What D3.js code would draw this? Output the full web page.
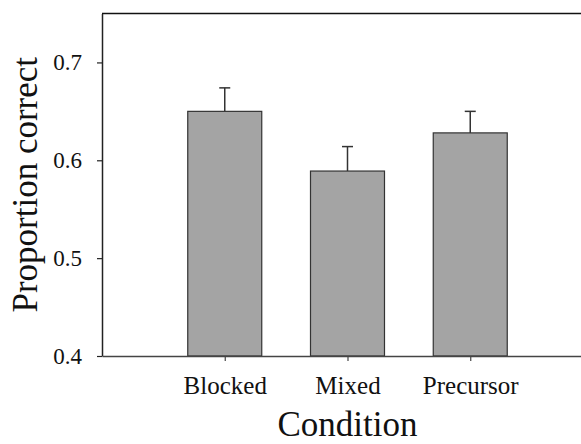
<!DOCTYPE html>
<html>
<head>
<meta charset="utf-8">
<script src="https://cdn.jsdelivr.net/npm/d3@7"></script>
<style>
  body { margin: 0; background: #fff; }
  svg text { font-family: "Liberation Serif", "Times New Roman", serif !important; }
</style>
</head>
<body>
<div id="wrapper"></div>
<script>
const conditions = ["Blocked", "Mixed", "Precursor"];
const means = [0.650, 0.589, 0.628];
const errors = [0.024, 0.025, 0.022];
const yTicks = [0.4, 0.5, 0.6, 0.7];

function drawChart() {
    const dimensions = {
        width: 581,
        height: 444,
        margin: { top: 13.5, right: -12, bottom: 88, left: 102 },
    };
    dimensions.boundedWidth = dimensions.width - dimensions.margin.left - dimensions.margin.right;
    dimensions.boundedHeight = dimensions.height - dimensions.margin.top - dimensions.margin.bottom;

    const svg = d3.select("#wrapper").append("svg")
        .attr("width", dimensions.width)
        .attr("height", dimensions.height);

    const bounds = svg.append("g")
        .attr("transform", `translate(${dimensions.margin.left},${dimensions.margin.top})`);

    // categories sit at 1, 2, 3 on a 0..4 axis
    const xScale = d3.scaleLinear()
        .domain([0, conditions.length + 1])
        .range([0, dimensions.boundedWidth]);

    const yScale = d3.scaleLinear()
        .domain([0.4, 0.75])
        .range([dimensions.boundedHeight, 0]);

    const barWidth = 74;
    const data = conditions.map((c, i) => ({ c, i: i + 1, m: means[i], e: errors[i] }));

    // error bars (upper only)
    const err = bounds.append("g").selectAll("g").data(data).join("g");
    err.append("line")
        .attr("x1", d => xScale(d.i)).attr("x2", d => xScale(d.i))
        .attr("y1", d => yScale(d.m)).attr("y2", d => yScale(d.m + d.e))
        .attr("stroke", "#333").attr("stroke-width", 1.5);
    err.append("line")
        .attr("x1", d => xScale(d.i) - 5.5).attr("x2", d => xScale(d.i) + 5.5)
        .attr("y1", d => yScale(d.m + d.e)).attr("y2", d => yScale(d.m + d.e))
        .attr("stroke", "#333").attr("stroke-width", 1.5);

    bounds.append("g").selectAll("rect").data(data).join("rect")
        .attr("x", d => xScale(d.i) - barWidth / 2)
        .attr("y", d => yScale(d.m))
        .attr("width", barWidth)
        .attr("height", d => dimensions.boundedHeight - yScale(d.m))
        .attr("fill", "#a4a4a4")
        .attr("stroke", "#333")
        .attr("stroke-width", 1.2);

    // top frame line
    bounds.append("line")
        .attr("x1", 0).attr("x2", dimensions.boundedWidth)
        .attr("y1", yScale(0.75)).attr("y2", yScale(0.75))
        .attr("stroke", "#111").attr("stroke-width", 1.5);

    const yAxis = bounds.append("g")
        .call(d3.axisLeft(yScale).tickValues(yTicks).tickFormat(d3.format(".1f"))
            .tickSize(5).tickSizeOuter(0).tickPadding(15));
    yAxis.attr("font-family", null);
    yAxis.select(".domain").attr("stroke", "#222").attr("stroke-width", 1.5);
    yAxis.selectAll(".tick line").attr("stroke", "#222").attr("stroke-width", 1.2);
    yAxis.selectAll("text").attr("font-size", 23).attr("fill", "#111")
        .style("font-family", "'Liberation Serif', serif");

    const xAxis = bounds.append("g")
        .attr("transform", `translate(0,${dimensions.boundedHeight})`)
        .call(d3.axisBottom(xScale).tickValues(d3.range(1, conditions.length + 1))
            .tickFormat(d => conditions[d - 1]).tickSize(5).tickSizeOuter(0).tickPadding(15));
    xAxis.attr("font-family", null);
    xAxis.select(".domain").attr("stroke", "#444").attr("stroke-width", 1.5);
    xAxis.selectAll(".tick line").attr("stroke", "#444").attr("stroke-width", 1.2);
    xAxis.selectAll("text").attr("font-size", 25).attr("fill", "#111")
        .style("font-family", "'Liberation Serif', serif");

    svg.append("text")
        .attr("x", dimensions.margin.left + xScale(2))
        .attr("y", 436)
        .attr("text-anchor", "middle")
        .attr("font-size", 35)
        .attr("fill", "#111")
        .text("Condition");

    svg.append("text")
        .attr("transform", `translate(37,${dimensions.margin.top + dimensions.boundedHeight / 2}) rotate(-90)`)
        .attr("text-anchor", "middle")
        .attr("font-size", 35)
        .attr("fill", "#111")
        .text("Proportion correct");
}

drawChart();
</script>
</body>
</html>
